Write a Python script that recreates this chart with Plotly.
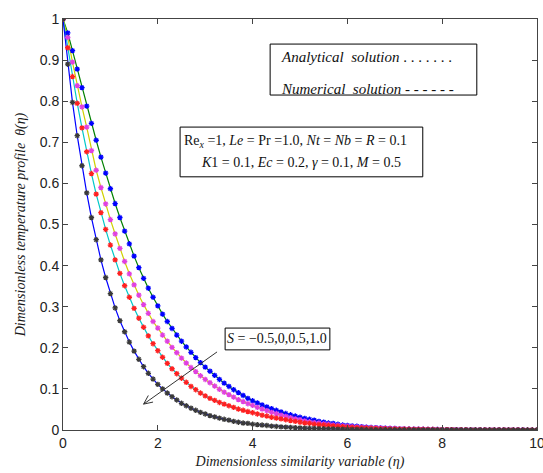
import numpy as np
import plotly.graph_objects as go

# similarity variable grid (0 to 10, step 0.1)
eta = np.round(np.linspace(0, 10, 101), 1)

# S = -0.5 (green line, blue markers)
theta_s_m05 = [1.000, 0.966, 0.923, 0.878, 0.833, 0.788, 0.746, 0.705, 0.664, 0.625,
               0.587, 0.551, 0.517, 0.484, 0.453, 0.423, 0.395, 0.369, 0.345, 0.323,
               0.302, 0.282, 0.264, 0.247, 0.231, 0.216, 0.202, 0.189, 0.176, 0.164,
               0.153, 0.143, 0.133, 0.123, 0.114, 0.106, 0.098, 0.091, 0.084, 0.077,
               0.071, 0.066, 0.061, 0.056, 0.052, 0.048, 0.044, 0.040, 0.037, 0.034,
               0.031, 0.028, 0.026, 0.024, 0.021, 0.019, 0.017, 0.016, 0.014, 0.012,
               0.011, 0.010, 0.009, 0.008, 0.007, 0.006, 0.0055, 0.005, 0.0045, 0.004,
               0.0035, 0.003, 0.0027, 0.0024, 0.0021, 0.0019, 0.0017, 0.0015, 0.0013, 0.0012,
               0.001, 0.0009, 0.0008, 0.0007, 0.0006, 0.0005, 0.0005, 0.0004, 0.0004, 0.0003,
               0.0003, 0.0002, 0.0002, 0.0002, 0.0001, 0.0001, 0.0001, 0.0001, 0.0, 0.0, 0.0]

# S = 0 (yellow line, magenta markers)
theta_s_0 = [1.000, 0.955, 0.895, 0.838, 0.786, 0.737, 0.680, 0.632, 0.590, 0.550,
             0.512, 0.477, 0.442, 0.410, 0.380, 0.353, 0.328, 0.305, 0.284, 0.264,
             0.248, 0.231, 0.216, 0.201, 0.188, 0.175, 0.163, 0.152, 0.142, 0.132,
             0.123, 0.115, 0.107, 0.099, 0.092, 0.086, 0.080, 0.074, 0.069, 0.064,
             0.060, 0.055, 0.051, 0.047, 0.043, 0.040, 0.036, 0.033, 0.030, 0.027,
             0.025, 0.022, 0.020, 0.018, 0.017, 0.015, 0.014, 0.012, 0.011, 0.010,
             0.009, 0.008, 0.0073, 0.0066, 0.006, 0.0054, 0.0049, 0.0044, 0.004, 0.0036,
             0.0032, 0.0029, 0.0026, 0.0023, 0.0021, 0.0019, 0.0017, 0.0015, 0.0013, 0.0012,
             0.001, 0.0009, 0.0008, 0.0007, 0.0006, 0.0005, 0.0005, 0.0004, 0.0004, 0.0003,
             0.0003, 0.0002, 0.0002, 0.0002, 0.0001, 0.0001, 0.0001, 0.0001, 0.0, 0.0, 0.0]

# S = 0.5 (cyan line, red markers)
theta_s_05 = [1.000, 0.930, 0.860, 0.795, 0.735, 0.677, 0.624, 0.574, 0.529, 0.488,
              0.450, 0.414, 0.381, 0.351, 0.323, 0.296, 0.272, 0.250, 0.229, 0.210,
              0.193, 0.177, 0.162, 0.149, 0.137, 0.126, 0.116, 0.106, 0.098, 0.090,
              0.083, 0.077, 0.072, 0.067, 0.063, 0.059, 0.055, 0.051, 0.048, 0.045,
              0.042, 0.039, 0.036, 0.034, 0.031, 0.029, 0.027, 0.025, 0.023, 0.021,
              0.019, 0.017, 0.016, 0.014, 0.013, 0.012, 0.011, 0.010, 0.009, 0.008,
              0.007, 0.0064, 0.0058, 0.0052, 0.0047, 0.0042, 0.0038, 0.0034, 0.0031, 0.0028,
              0.0025, 0.0022, 0.002, 0.0018, 0.0016, 0.0014, 0.0013, 0.0012, 0.0011, 0.001,
              0.0009, 0.0008, 0.0007, 0.0006, 0.0005, 0.0005, 0.0004, 0.0004, 0.0003, 0.0003,
              0.0002, 0.0002, 0.0002, 0.0001, 0.0001, 0.0001, 0.0001, 0.0, 0.0, 0.0, 0.0]

# S = 1.0 (blue line, black markers)
theta_s_1 = [1.000, 0.890, 0.797, 0.716, 0.643, 0.577, 0.517, 0.463, 0.414, 0.371,
             0.332, 0.297, 0.266, 0.239, 0.214, 0.192, 0.172, 0.154, 0.138, 0.124,
             0.111, 0.100, 0.090, 0.081, 0.073, 0.065, 0.059, 0.053, 0.048, 0.043,
             0.039, 0.035, 0.032, 0.029, 0.026, 0.024, 0.021, 0.019, 0.017, 0.016,
             0.014, 0.013, 0.012, 0.011, 0.0095, 0.0086, 0.0077, 0.007, 0.0063, 0.0057,
             0.0051, 0.0046, 0.0041, 0.0037, 0.0034, 0.003, 0.0027, 0.0025, 0.0022, 0.002,
             0.0018, 0.0016, 0.0015, 0.0013, 0.0012, 0.0011, 0.001, 0.0009, 0.0008, 0.0007,
             0.0006, 0.0006, 0.0005, 0.0005, 0.0004, 0.0004, 0.0003, 0.0003, 0.0003, 0.0002,
             0.0002, 0.0002, 0.0002, 0.0001, 0.0001, 0.0001, 0.0001, 0.0001, 0.0001, 0.0,
             0.0, 0.0, 0.0, 0.0, 0.0, 0.0, 0.0, 0.0, 0.0, 0.0, 0.0]

series = [theta_s_m05, theta_s_0, theta_s_05, theta_s_1]
line_colors = ["#008000", "#d0d000", "#00c8c8", "#0000ff"]
marker_colors = ["#0000ff", "#e040e0", "#ff2020", "#3a3a3a"]

fig = go.Figure()
for ys, lc in zip(series, line_colors):
    assert len(ys) == len(eta)
    fig.add_trace(go.Scatter(x=eta, y=ys, mode="lines",
                             line=dict(color=lc, width=1.2), showlegend=False))
for ys, mc in zip(series, marker_colors):
    fig.add_trace(go.Scatter(x=eta, y=ys, mode="markers",
                             marker=dict(symbol="asterisk-open", size=4.5, color=mc,
                                         line=dict(color=mc, width=1.3)),
                             showlegend=False))

serif = "Liberation Serif, Times New Roman, serif"
sans = "Liberation Sans, Arial, sans-serif"
frame = "#444444"

fig.update_layout(
    width=543, height=473,
    margin=dict(l=63, r=6, t=19, b=43),
    paper_bgcolor="white", plot_bgcolor="white",
    font=dict(family=sans, size=14, color="#222222"),
    xaxis=dict(range=[0, 10], tickvals=[0, 2, 4, 6, 8, 10], automargin=False,
               ticks="inside", ticklen=5, tickcolor=frame, ticklabeloverflow="allow",
               showline=True, linecolor=frame, linewidth=1, mirror="ticks",
               showgrid=False, zeroline=False,
               title=dict(text="<i>Dimensionless similarity variable (η)</i>",
                          font=dict(family=serif, size=14, color="#1a1a1a"),
                          standoff=6)),
    yaxis=dict(range=[0, 1], tickvals=[0, 0.1, 0.2, 0.3, 0.4, 0.5, 0.6, 0.7, 0.8, 0.9, 1],
               ticktext=["0", "0.1", "0.2", "0.3", "0.4", "0.5", "0.6", "0.7", "0.8", "0.9", "1"],
               automargin=False,
               ticks="inside", ticklen=5, tickcolor=frame, ticklabeloverflow="allow",
               showline=True, linecolor=frame, linewidth=1, mirror="ticks",
               showgrid=False, zeroline=False,
               title=dict(text="<i>Dimensionless temperature profile  θ(η)</i>",
                          font=dict(family=serif, size=14, color="#1a1a1a"),
                          standoff=10)),
)

# boxes
box = dict(type="rect", xref="x", yref="y", line=dict(color="black", width=1),
           fillcolor="white", layer="above")
fig.add_shape(**box, x0=4.37, x1=8.73, y0=0.815, y1=0.939)
fig.add_shape(**box, x0=2.47, x1=7.59, y0=0.616, y1=0.737)
fig.add_shape(**box, x0=3.42, x1=5.63, y0=0.195, y1=0.248)

ann_font = dict(family=serif, size=15, color="#111111")
fig.add_annotation(x=4.55, y=0.907, xref="x", yref="y", xanchor="left", showarrow=False,
                   text="<i>Analytical  solution</i> . . . . . . .", font=ann_font)
fig.add_annotation(x=4.55, y=0.830, xref="x", yref="y", xanchor="left", showarrow=False,
                   text="<i>Numerical  solution</i> - - - - - -", font=ann_font)

par_font = dict(family=serif, size=14, color="#111111")
fig.add_annotation(x=2.5, y=0.703, xref="x", yref="y", xanchor="left", showarrow=False,
                   text="Re<sub><i>x</i></sub> =1, <i>Le</i> = Pr =1.0, <i>Nt</i> = <i>Nb</i> = <i>R</i> = 0.1",
                   font=par_font)
fig.add_annotation(x=5.03, y=0.650, xref="x", yref="y", xanchor="center", showarrow=False,
                   text="<i>K</i>1 = 0.1, <i>Ec</i> = 0.2, <i>γ</i> = 0.1, <i>M</i> = 0.5",
                   font=par_font)
fig.add_annotation(x=4.525, y=0.222, xref="x", yref="y", xanchor="center", showarrow=False,
                   text="<i>S</i> = −0.5,0,0.5,1.0", font=par_font)

# arrow (open V head)
arrow = dict(type="path", xref="x", yref="y", line=dict(color="#333333", width=1), layer="above")
fig.add_shape(**arrow, path="M 3.25,0.19 L 1.70,0.063")
fig.add_shape(**arrow, path="M 1.90,0.068 L 1.70,0.063 L 1.80,0.084")

fig.write_html("out.html")
